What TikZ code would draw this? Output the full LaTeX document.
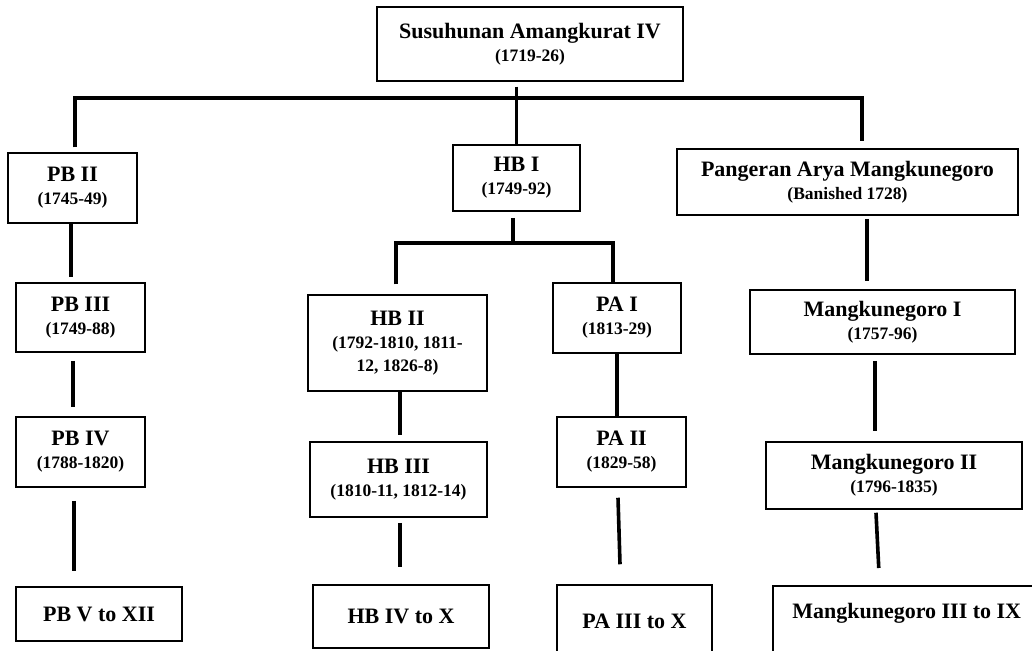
\documentclass[tikz,border=0pt]{standalone}
\usepackage{fontspec}
\setmainfont{Liberation Serif}
\newcommand{\nmfont}{\bfseries\fontsize{22}{23}\selectfont}
\newcommand{\dtfont}{\bfseries\fontsize{17.5}{23}\selectfont}
\tikzset{
  box/.style={draw, line width=1.5pt, align=center, inner sep=2pt, font=\nmfont},
  conn/.style={line width=3.6pt},
}
\begin{document}
\begin{tikzpicture}[x=1pt,y=-1pt]
\useasboundingbox (0,0) rectangle (1032,650);
\clip (0,0) rectangle (1032,650);
\fill[white] (0,0) rectangle (1032,650);

% nodes
\node[box, minimum width=306pt, minimum height=74pt] (top) at (530,44) {Susuhunan Amangkurat IV\\\dtfont(1719-26)};

\node[box, minimum width=129pt, minimum height=70pt] (pb2) at (72.5,188) {PB II\\\dtfont(1745-49)};
\node[box, minimum width=129pt, minimum height=69pt] (pb3) at (80.5,317.5) {PB III\\\dtfont(1749-88)};
\node[box, minimum width=129pt, minimum height=70pt] (pb4) at (80.5,452) {PB IV\\\dtfont(1788-1820)};
\node[box, minimum width=166pt, minimum height=54pt] (pb5) at (99,614) {PB V to XII};

\node[box, minimum width=127pt, minimum height=66pt] (hb1) at (516.5,178) {HB I\\\dtfont(1749-92)};
\node[box, minimum width=179pt, minimum height=96pt] (hb2) at (397.5,343) {HB II\\\dtfont(1792-1810, 1811-\\\dtfont 12, 1826-8)};
\node[box, minimum width=177pt, minimum height=75pt] (hb3) at (398.5,479.5) {HB III\\\dtfont(1810-11, 1812-14)};
\node[box, minimum width=176pt, minimum height=63pt] (hb4) at (401,616.5) {HB IV to X};

\node[box, minimum width=128pt, minimum height=70pt] (pa1) at (617,318) {PA I\\\dtfont(1813-29)};
\node[box, minimum width=129pt, minimum height=70pt] (pa2) at (621.5,452) {PA II\\\dtfont(1829-58)};
\node[box, minimum width=155pt, minimum height=73pt] (pa3) at (634.5,621.5) {PA III to X};

\node[box, minimum width=341pt, minimum height=66pt] (pam) at (847.5,182) {Pangeran Arya Mangkunegoro\\\dtfont(Banished 1728)};
\node[box, minimum width=265pt, minimum height=64pt] (m1) at (882.5,322) {Mangkunegoro I\\\dtfont(1757-96)};
\node[box, minimum width=256pt, minimum height=67pt] (m2) at (894,475.5) {Mangkunegoro II\\\dtfont(1796-1835)};
\node[box, anchor=north west, minimum width=268pt, inner ysep=17pt, text depth=60pt] (m3) at (772,585) {Mangkunegoro III to IX};

% top level bar
\coordinate (bL) at (75,98);
\coordinate (bR) at (862,98);
\draw[conn] ([yshift=5pt]pb2.north -| bL) -- (bL) -- (bR) -- ([yshift=7pt]pam.north -| bR);
\draw[conn] ([yshift=-5pt]top.south -| hb1.north) -- (hb1.north);

% HB I bar
\coordinate (cL) at (396,243);
\coordinate (cR) at (613,243);
\draw[conn] ([yshift=10pt]hb2.north -| cL) -- (cL) -- (cR) -- (pa1.north -| cR);
\draw[conn] ([xshift=-3.5pt,yshift=-6pt]hb1.south) -- ([xshift=-3.5pt]hb1.south |- cL);

% vertical connectors
\draw[conn] ([xshift=-1.5pt]pb2.south) -- ([xshift=-9.5pt,yshift=5pt]pb3.north);
\draw[conn] ([xshift=-7.5pt,yshift=-8pt]pb3.south) -- ([xshift=-7.5pt,yshift=9pt]pb4.north);
\draw[conn] ([xshift=-6.5pt,yshift=-13pt]pb4.south) -- ([xshift=-25pt,yshift=15pt]pb5.north);
\draw[conn] ([xshift=2.5pt]hb2.south) -- ([xshift=1.5pt,yshift=6pt]hb3.north);
\draw[conn] ([xshift=1.5pt,yshift=-5pt]hb3.south) -- ([xshift=-1pt,yshift=17pt]hb4.north);
\draw[conn] (pa1.south) -- ([xshift=-4.5pt]pa2.north);
\draw[conn] ([xshift=-3.5pt,yshift=-10pt]pa2.south) -- ([xshift=-14.5pt,yshift=20pt]pa3.north);
\draw[conn] ([xshift=19.5pt,yshift=-3pt]pam.south) -- ([xshift=-15.5pt,yshift=8pt]m1.north);
\draw[conn] ([xshift=-7.5pt,yshift=-6pt]m1.south) -- ([xshift=-19pt,yshift=10pt]m2.north);
\draw[conn] ([xshift=-18pt,yshift=-3pt]m2.south) -- ([xshift=-28pt,yshift=17pt]m3.north);
\end{tikzpicture}
\end{document}
